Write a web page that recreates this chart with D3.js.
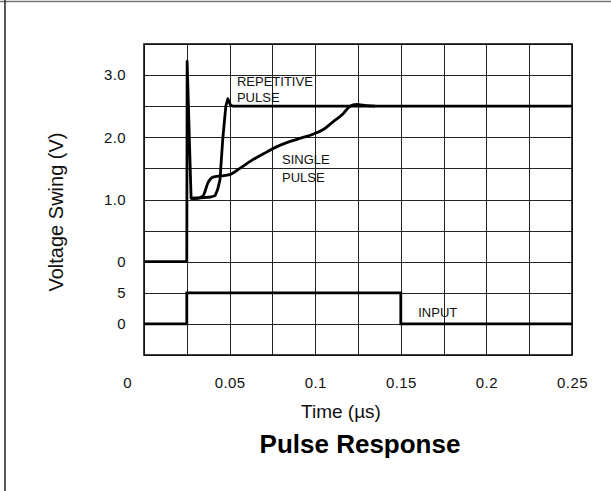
<!DOCTYPE html>
<html>
<head>
<meta charset="utf-8">
<script src="https://cdn.jsdelivr.net/npm/d3@7"></script>
<style>
  html, body { margin: 0; padding: 0; background: #fff; }
  svg { display: block; font-family: "Liberation Sans", Arial, Helvetica, sans-serif; }
</style>
</head>
<body>
<svg id="chart" width="611" height="491"></svg>
<script>
// ---- data (time in µs, voltage in V) ----
const repetitiveT = [0, 0.025, 0.0252, 0.0275, 0.030, 0.035, 0.039, 0.0415, 0.043, 0.0444, 0.046, 0.0478, 0.049, 0.0505, 0.052, 0.25];
const repetitiveV = [0, 0, 3.22, 1.02, 1.02, 1.03, 1.04, 1.06, 1.16, 1.32, 1.97, 2.5, 2.62, 2.52, 2.5, 2.5];

const singleT = [0.0275, 0.031, 0.0345, 0.0374, 0.0403, 0.045, 0.050, 0.056, 0.0625, 0.0695, 0.0777, 0.085, 0.092, 0.0987, 0.105, 0.110, 0.116, 0.1203, 0.124, 0.130, 0.135];
const singleV = [1.02, 1.02, 1.06, 1.27, 1.36, 1.38, 1.40, 1.50, 1.62, 1.73, 1.85, 1.93, 1.99, 2.05, 2.13, 2.24, 2.37, 2.5, 2.53, 2.51, 2.5];

const inputT = [0, 0.025, 0.025, 0.15, 0.15, 0.25];
const inputV = [0, 0, 5, 5, 0, 0];

const xTicks = [0, 0.05, 0.1, 0.15, 0.2, 0.25];
const xTickLabels = ["0", "0.05", "0.1", "0.15", "0.2", "0.25"];
const outTicks = [3, 2, 1, 0];
const outTickLabels = ["3.0", "2.0", "1.0", "0"];
const inTicks = [5, 0];
const inTickLabels = ["5", "0"];
const xGrid = d3.range(0, 0.2501, 0.025);
const yGrid = d3.range(-1.5, 3.5001, 0.5);

// ---- layout ----
const svg = d3.select("#chart");
const L = 144, R = 572, T = 44, B = 355;
const FONT = "Liberation Sans, Arial, sans-serif";

const x = d3.scaleLinear().domain([0, 0.25]).range([L, R]);
const yOut = d3.scaleLinear().domain([-1.5, 3.5]).range([B, T]);
const yIn = d3.scaleLinear().domain([-5, 45]).range([B, T]);

// outer border (top and left)
svg.append("line").attr("x1", 0).attr("x2", 611).attr("y1", 1.5).attr("y2", 1.5)
  .attr("stroke", "#777").attr("stroke-width", 1.5);
svg.append("line").attr("x1", 5).attr("x2", 5).attr("y1", 0).attr("y2", 491)
  .attr("stroke", "#222").attr("stroke-width", 1.5);

// grid
const gx = svg.append("g").attr("transform", `translate(0,${B})`)
  .call(d3.axisBottom(x).tickValues(xGrid).tickSize(-(B - T)).tickFormat(""));
const gy = svg.append("g").attr("transform", `translate(${L},0)`)
  .call(d3.axisLeft(yOut).tickValues(yGrid).tickSize(-(R - L)).tickFormat(""));
[gx, gy].forEach(g => {
  g.select(".domain").remove();
  g.selectAll(".tick line").attr("stroke", "#222").attr("stroke-width", 1).attr("shape-rendering", "crispEdges");
});

// frame
svg.append("rect").attr("x", L).attr("y", T).attr("width", R - L).attr("height", B - T)
  .attr("fill", "none").attr("stroke", "#111").attr("stroke-width", 1.6);

// tick labels
const fontTick = 15;
const ax = svg.append("g").attr("transform", `translate(0,${B + 19})`)
  .call(d3.axisBottom(x).tickValues(xTicks).tickSize(0).tickFormat((d, i) => xTickLabels[i]));
ax.select(".domain").remove();
ax.selectAll("text").attr("font-size", fontTick).attr("fill", "#111").attr("font-family", FONT)
  .attr("letter-spacing", 0.4)
  .attr("dx", d => d === 0 ? -17 : 0);

const ayo = svg.append("g").attr("transform", `translate(${L - 15},0)`)
  .call(d3.axisLeft(yOut).tickValues(outTicks).tickSize(0).tickFormat((d, i) => outTickLabels[i]));
const ayi = svg.append("g").attr("transform", `translate(${L - 15},0)`)
  .call(d3.axisLeft(yIn).tickValues(inTicks).tickSize(0).tickFormat((d, i) => inTickLabels[i]));
[ayo, ayi].forEach(g => {
  g.select(".domain").remove();
  g.selectAll("text").attr("font-size", fontTick).attr("fill", "#111").attr("font-family", FONT)
    .attr("letter-spacing", 0.4);
});

// curves
const lineOut = d3.line().x(d => x(d[0])).y(d => yOut(d[1]));
const lineIn = d3.line().x(d => x(d[0])).y(d => yIn(d[1]));
const rep = repetitiveT.map((t, i) => [t, repetitiveV[i]]);
const sing = singleT.map((t, i) => [t, singleV[i]]);
const inp = inputT.map((t, i) => [t, inputV[i]]);

svg.append("path").attr("d", lineOut(rep))
  .attr("fill", "none").attr("stroke", "#000").attr("stroke-width", 2.8).attr("stroke-linejoin", "round");
svg.append("path").attr("d", d3.line().x(d => x(d[0])).y(d => yOut(d[1])).curve(d3.curveMonotoneX)(sing))
  .attr("fill", "none").attr("stroke", "#000").attr("stroke-width", 2.8).attr("stroke-linejoin", "round");
svg.append("path").attr("d", lineIn(inp))
  .attr("fill", "none").attr("stroke", "#000").attr("stroke-width", 2.8).attr("stroke-linejoin", "miter");

// annotations
const ann = [
  { t: 0.0543, v: 2.82, s: "REPETITIVE", sc: yOut },
  { t: 0.0543, v: 2.57, s: "PULSE", sc: yOut },
  { t: 0.0806, v: 1.57, s: "SINGLE", sc: yOut },
  { t: 0.0806, v: 1.28, s: "PULSE", sc: yOut },
  { t: 0.1602, v: 1.1, s: "INPUT", sc: yIn }
];
svg.append("g").selectAll("text").data(ann).join("text")
  .attr("x", d => x(d.t)).attr("y", d => d.sc(d.v))
  .attr("font-size", 13).attr("fill", "#111").attr("font-family", FONT)
  .text(d => d.s);

// axis titles
svg.append("text").attr("transform", `translate(63,212) rotate(-90)`)
  .attr("text-anchor", "middle").attr("font-size", 20).attr("fill", "#111").attr("font-family", FONT)
  .text("Voltage Swing (V)");
svg.append("text").attr("x", 341).attr("y", 418)
  .attr("text-anchor", "middle").attr("font-size", 19).attr("fill", "#111").attr("font-family", FONT)
  .text("Time (µs)");
svg.append("text").attr("x", 360).attr("y", 453)
  .attr("text-anchor", "middle").attr("font-size", 26).attr("font-weight", "bold").attr("fill", "#000").attr("font-family", FONT)
  .text("Pulse Response");
</script>
</body>
</html>
